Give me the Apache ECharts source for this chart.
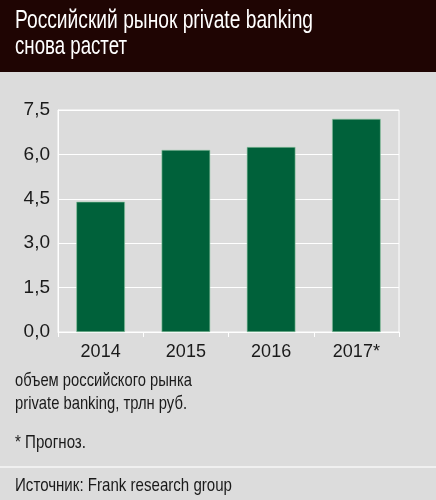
<!DOCTYPE html>
<html><head><meta charset="utf-8">
<script src="https://cdn.jsdelivr.net/npm/echarts@6/dist/echarts.min.js"></script>
<style>html,body{margin:0;padding:0;background:#dcdcdc}#c{width:436px;height:500px}</style>
</head><body><div id="c"></div>
<script>
const categories = ['2014', '2015', '2016', '2017*'];
const values = [4.4, 6.15, 6.25, 7.2];
const yTicks = [0, 1.5, 3.0, 4.5, 6.0, 7.5];
const titleLines = ['Российский рынок private banking', 'снова растет'];
const unitLines = ['объем российского рынка', 'private banking, трлн руб.'];
const noteText = '* Прогноз.';
const sourceText = 'Источник: Frank research group';

const FONT = '"Liberation Sans","Arimo",sans-serif';
const ctx = document.createElement('canvas').getContext('2d');
function fitText(text, x, top, size, width, fill) {
  ctx.font = size + 'px ' + FONT;
  const w = ctx.measureText(text).width;
  return {type: 'text', x: x, y: top, scaleX: width / w, scaleY: 1,
    style: {text: text, fill: fill, font: size + 'px ' + FONT, verticalAlign: 'top', align: 'left'}};
}

const chart = echarts.init(document.getElementById('c'), null, {renderer: 'canvas'});
chart.setOption({
  backgroundColor: '#dcdcdc',
  animation: false,
  graphic: [
    {type: 'rect', x: 0, y: 0, shape: {width: 436, height: 72}, style: {fill: '#1f0503'}, z: -1},
    {type: 'rect', x: 0, y: 466, shape: {width: 436, height: 2}, style: {fill: '#f0f0f0'}},
    fitText(titleLines[0], 15, 9, 25, 298, '#ffffff'),
    fitText(titleLines[1], 15, 35, 25, 112, '#ffffff'),
    fitText(unitLines[0], 15, 371, 19, 177, '#1a1a1a'),
    fitText(unitLines[1], 15, 394, 19, 172, '#1a1a1a'),
    fitText(noteText, 15, 433, 19, 71, '#1a1a1a'),
    fitText(sourceText, 15, 476, 19, 217, '#1a1a1a')
  ],
  grid: {left: 58, right: 37, top: 110, bottom: 168, show: true, borderColor: '#ffffff', borderWidth: 1, backgroundColor: 'transparent'},
  xAxis: {
    type: 'category',
    data: categories,
    axisLine: {show: true, lineStyle: {color: '#ffffff', width: 1}},
    axisTick: {show: true, length: 5, lineStyle: {color: '#ffffff'}},
    axisLabel: {color: '#1a1a1a', fontFamily: FONT, fontSize: 18, margin: 11}
  },
  yAxis: {
    type: 'value',
    min: yTicks[0],
    max: yTicks[yTicks.length - 1],
    interval: yTicks[1] - yTicks[0],
    axisLine: {show: true, lineStyle: {color: '#ffffff'}},
    axisTick: {show: false},
    splitLine: {show: true, lineStyle: {color: '#ffffff', width: 1}},
    axisLabel: {color: '#1a1a1a', fontFamily: FONT, fontSize: 19, margin: 8,
      formatter: v => v.toFixed(1).replace('.', ',')}
  },
  series: [{
    type: 'bar',
    data: values,
    barWidth: '57%',
    itemStyle: {color: '#00613a', borderColor: '#8fc7a3', borderWidth: 0.6}
  }]
});
</script></body></html>
